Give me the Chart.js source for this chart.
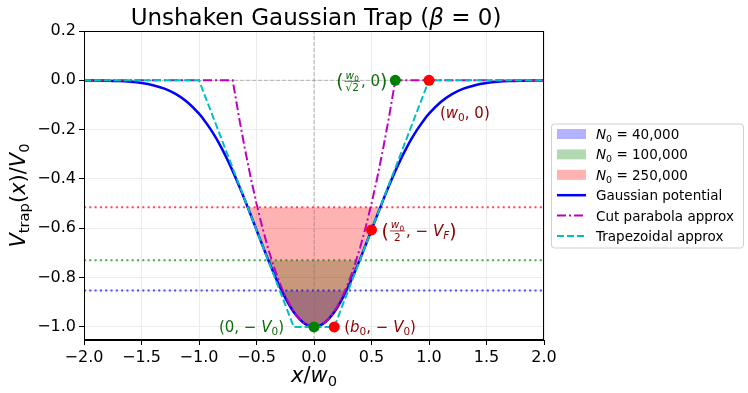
<!DOCTYPE html>
<html>
<head>
<meta charset="utf-8">
<script src="https://cdn.jsdelivr.net/npm/chart.js@4"></script>
<style>
  html, body { margin: 0; padding: 0; background: #fff; }
  canvas { display: block; }
</style>
</head>
<body>
<canvas id="trapChart" width="748" height="393"></canvas>
<script>
// Gaussian potential V/V0 read along x/w0
const gaussX = [-2.0, -1.9, -1.8, -1.7, -1.6, -1.5, -1.4, -1.3, -1.2, -1.1, -1.0,
    -0.95, -0.9, -0.85, -0.8, -0.75, -0.7, -0.65, -0.6, -0.55, -0.5, -0.45, -0.4, -0.35,
    -0.3, -0.25, -0.2, -0.15, -0.1, -0.05, 0,
    0.05, 0.1, 0.15, 0.2, 0.25, 0.3, 0.35, 0.4, 0.45, 0.5, 0.55, 0.6, 0.65, 0.7, 0.75,
    0.8, 0.85, 0.9, 0.95, 1.0, 1.1, 1.2, 1.3, 1.4, 1.5, 1.6, 1.7, 1.8, 1.9, 2.0];
const gaussY = [-0.0003, -0.0007, -0.0015, -0.0031, -0.0060, -0.0111, -0.0198, -0.0340, -0.0561, -0.0889, -0.1353,
    -0.1645, -0.1979, -0.2357, -0.2780, -0.3247, -0.3753, -0.4296, -0.4868, -0.5461, -0.6065, -0.6670, -0.7261, -0.7827,
    -0.8353, -0.8825, -0.9231, -0.9560, -0.9802, -0.9950, -1.0000,
    -0.9950, -0.9802, -0.9560, -0.9231, -0.8825, -0.8353, -0.7827, -0.7261, -0.6670, -0.6065, -0.5461, -0.4868, -0.4296, -0.3753, -0.3247,
    -0.2780, -0.2357, -0.1979, -0.1645, -0.1353, -0.0889, -0.0561, -0.0340, -0.0198, -0.0111, -0.0060, -0.0031, -0.0015, -0.0007, -0.0003];

// cut parabola approximation
const paraX = [-2.0, -0.707, -0.65, -0.6, -0.55, -0.5, -0.45, -0.4, -0.35, -0.3, -0.25, -0.2, -0.15, -0.1, -0.05, 0,
    0.05, 0.1, 0.15, 0.2, 0.25, 0.3, 0.35, 0.4, 0.45, 0.5, 0.55, 0.6, 0.65, 0.707, 2.0];
const paraY = [0, 0, -0.155, -0.28, -0.395, -0.5, -0.595, -0.68, -0.755, -0.82, -0.875, -0.92, -0.955, -0.98, -0.995, -1.0,
    -0.995, -0.98, -0.955, -0.92, -0.875, -0.82, -0.755, -0.68, -0.595, -0.5, -0.395, -0.28, -0.155, 0, 0];

// trapezoidal approximation
const trapX = [-2.0, -1.0, -0.176, 0.176, 1.0, 2.0];
const trapY = [0, 0, -1.0, -1.0, 0, 0];

// Fermi levels for each atom number
const levelLabels = ['40,000', '100,000', '250,000'];
const levelValues = [-0.852, -0.730, -0.515];

// marked points
const markX = [0.707, 1.0, 0.5, 0, 0.176];
const markY = [0, 0, -0.6065, -1.0, -1.0];

const xTicks = [-2.0, -1.5, -1.0, -0.5, 0.0, 0.5, 1.0, 1.5, 2.0];
const yTicks = [-1.0, -0.8, -0.6, -0.4, -0.2, 0.0, 0.2];
const xMin = -2.0, xMax = 2.0, yMin = -1.053, yMax = 0.2;

const FONT = '"DejaVu Sans", sans-serif';
const fillColors = ['rgba(0,0,255,0.3)', 'rgba(0,128,0,0.3)', 'rgba(255,0,0,0.3)'];
const levelColors = ['rgba(0,0,255,0.7)', 'rgba(0,128,0,0.7)', 'rgba(255,0,0,0.7)'];
const markColors = ['#008000', '#ff0000', '#ff0000', '#008000', '#ff0000'];
const GREEN_TXT = '#0a6e0a';
const RED_TXT = '#8b0000';

const pts = (xs, ys) => xs.map((x, i) => ({ x: x, y: ys[i] }));
const fmt = v => (v < -1e-9 ? '\u2212' : '') + Math.abs(v).toFixed(1);

// ---- mixed text runs (italic / subscript / fraction) ----
function runFont(r, size) {
    return (r.it ? 'oblique ' : '') + size + 'px ' + FONT;
}
function runSize(r, size) {
    if (r.sub) return size * 0.7;
    if (r.big) return size * 1.25;
    return size;
}
function fracWidth(ctx, r, size) {
    return Math.max(runsWidth(ctx, r.num, size * 0.7), runsWidth(ctx, r.den, size * 0.7)) + 4;
}
function runsWidth(ctx, runs, size) {
    let w = 0;
    runs.forEach(r => {
        if (r.num) { w += fracWidth(ctx, r, size); return; }
        ctx.font = runFont(r, runSize(r, size));
        w += ctx.measureText(r.t).width;
    });
    return w;
}
function drawRuns(ctx, runs, x, y, size, color, align) {
    const w = runsWidth(ctx, runs, size);
    let cx = align === 'right' ? x - w : (align === 'center' ? x - w / 2 : x);
    ctx.fillStyle = color;
    ctx.strokeStyle = color;
    ctx.textAlign = 'left';
    ctx.textBaseline = 'alphabetic';
    runs.forEach(r => {
        if (r.num) {
            const fw = fracWidth(ctx, r, size);
            const bar = y - size * 0.33;
            const nw = runsWidth(ctx, r.num, size * 0.7);
            const dw = runsWidth(ctx, r.den, size * 0.7);
            drawRuns(ctx, r.num, cx + (fw - nw) / 2, bar - 2.5, size * 0.7, color, 'left');
            drawRuns(ctx, r.den, cx + (fw - dw) / 2, bar + 2 + size * 0.52, size * 0.7, color, 'left');
            ctx.lineWidth = 0.8;
            ctx.beginPath();
            ctx.moveTo(cx + 1, bar);
            ctx.lineTo(cx + fw - 1, bar);
            ctx.stroke();
            cx += fw;
            return;
        }
        const s = runSize(r, size);
        ctx.font = runFont(r, s);
        let by = y;
        if (r.sub) by = y + size * 0.2;
        if (r.big) by = y + size * 0.12;
        ctx.fillText(r.t, cx, by);
        cx += ctx.measureText(r.t).width;
    });
}

const annotations = [
    { x: 0.707, y: 0, dx: -8, dy: 6, align: 'right', color: GREEN_TXT, runs: [
        { t: '(', big: true }, { num: [{ t: 'w', it: true }, { t: '0', sub: true }], den: [{ t: '\u221a2' }] },
        { t: ', 0' }, { t: ')', big: true }] },
    { x: 1.0, y: 0, dx: 11, dy: 38, align: 'left', color: RED_TXT, runs: [
        { t: '(' }, { t: 'w', it: true }, { t: '0', sub: true }, { t: ', 0)' }] },
    { x: 0.5, y: -0.6065, dx: 10, dy: 6, align: 'left', color: RED_TXT, runs: [
        { t: '(', big: true }, { num: [{ t: 'w', it: true }, { t: '0', sub: true }], den: [{ t: '2' }] },
        { t: ', \u2212 ' }, { t: 'V', it: true }, { t: 'F', it: true, sub: true }, { t: ')', big: true }] },
    { x: 0, y: -1.0, dx: -30, dy: 5, align: 'right', color: GREEN_TXT, runs: [
        { t: '(0, \u2212 ' }, { t: 'V', it: true }, { t: '0', sub: true }, { t: ')' }] },
    { x: 0.176, y: -1.0, dx: 10, dy: 5, align: 'left', color: RED_TXT, runs: [
        { t: '(' }, { t: 'b', it: true }, { t: '0', sub: true }, { t: ', \u2212 ' }, { t: 'V', it: true }, { t: '0', sub: true }, { t: ')' }] }
];

const decorPlugin = {
    id: 'decor',
    beforeDraw(chart) {
        const ctx = chart.ctx;
        ctx.save();
        ctx.fillStyle = '#fff';
        ctx.fillRect(0, 0, chart.width, chart.height);
        ctx.restore();
    },
    afterDraw(chart) {
        const ctx = chart.ctx;
        const a = chart.chartArea;
        const xs = chart.scales.x, ys = chart.scales.y;
        ctx.save();

        // frame
        ctx.strokeStyle = '#000';
        ctx.lineWidth = 1;
        ctx.strokeRect(Math.round(a.left) + 0.5, Math.round(a.top) + 0.5, Math.round(a.right - a.left) - 1, Math.round(a.bottom - a.top) - 1);

        // annotations
        annotations.forEach(an => {
            drawRuns(ctx, an.runs, xs.getPixelForValue(an.x) + an.dx, ys.getPixelForValue(an.y) + an.dy, 15, an.color, an.align);
        });

        // title
        const cxm = (a.left + a.right) / 2;
        drawRuns(ctx, [{ t: 'Unshaken Gaussian Trap (' }, { t: '\u03b2', it: true }, { t: ' = 0)' }], cxm + 2, 25, 23, '#000', 'center');

        // x axis title
        drawRuns(ctx, [{ t: 'x', it: true }, { t: '/' }, { t: 'w', it: true }, { t: '0', sub: true }], cxm, 382, 21, '#000', 'center');

        // y axis title (rotated)
        ctx.save();
        ctx.translate(25, (a.top + a.bottom) / 2 + 10);
        ctx.rotate(-Math.PI / 2);
        drawRuns(ctx, [{ t: 'V', it: true }, { t: 'trap', sub: true }, { t: '(' }, { t: 'x', it: true }, { t: ')/' },
            { t: 'V', it: true }, { t: '0', sub: true }], 0, 0, 21, '#000', 'center');
        ctx.restore();

        // legend
        const lx = a.right + 7, ly = (a.top + a.bottom) / 2 - 62, lw = 192, lh = 124;
        ctx.fillStyle = 'rgba(255,255,255,0.8)';
        ctx.strokeStyle = '#d0d0d0';
        ctx.lineWidth = 1;
        ctx.beginPath();
        ctx.roundRect(lx + 0.5, ly + 0.5, lw, lh, 3);
        ctx.fill();
        ctx.stroke();
        const rowH = 20.4;
        const hx0 = lx + 6, hx1 = lx + 35, tx = lx + 45;
        for (let i = 0; i < 6; i++) {
            const cy = ly + 10.5 + i * rowH;
            if (i < 3) {
                ctx.fillStyle = fillColors[i];
                ctx.fillRect(hx0, cy - 5, hx1 - hx0, 10);
                drawRuns(ctx, [{ t: 'N', it: true }, { t: '0', sub: true }, { t: ' = ' + levelLabels[i] }], tx, cy + 5, 13.5, '#000', 'left');
            } else {
                const st = [
                    { c: '#0000ff', d: [], w: 2.5, label: 'Gaussian potential' },
                    { c: '#bf00bf', d: [9, 3, 2, 3], w: 2, label: 'Cut parabola approx' },
                    { c: '#00bfbf', d: [7, 3], w: 2, label: 'Trapezoidal approx' }
                ][i - 3];
                ctx.strokeStyle = st.c;
                ctx.lineWidth = st.w;
                ctx.setLineDash(st.d);
                ctx.beginPath();
                ctx.moveTo(hx0, cy);
                ctx.lineTo(hx1, cy);
                ctx.stroke();
                ctx.setLineDash([]);
                drawRuns(ctx, [{ t: st.label }], tx, cy + 5, 13.5, '#000', 'left');
            }
        }
        ctx.restore();
    }
};

const datasets = [];

// shaded regions below each Fermi level (red painted last, on top)
levelValues.forEach((lv, i) => {
    datasets.push({
        data: pts(gaussX, gaussY),
        borderWidth: 0,
        pointRadius: 0,
        cubicInterpolationMode: 'monotone',
        fill: { target: { value: lv }, above: 'rgba(0,0,0,0)', below: fillColors[i] },
        order: 22 - i
    });
});

// dotted Fermi level lines
levelValues.forEach((lv, i) => {
    datasets.push({
        data: pts([xMin, xMax], [lv, lv]),
        borderColor: levelColors[i],
        borderWidth: 2,
        borderDash: [2, 3.3],
        pointRadius: 0,
        fill: false,
        order: 15
    });
});

// gray guide lines through the origin
datasets.push({
    data: pts([xMin, xMax], [0, 0]),
    borderColor: 'rgba(128,128,128,0.55)', borderWidth: 1, borderDash: [4, 2], pointRadius: 0, fill: false, order: 14
});
datasets.push({
    data: pts([0, 0], [yMin, yMax]),
    borderColor: 'rgba(128,128,128,0.55)', borderWidth: 1, borderDash: [4, 2], pointRadius: 0, fill: false, order: 14
});

datasets.push({
    label: 'Gaussian potential',
    data: pts(gaussX, gaussY),
    borderColor: '#0000ff',
    borderWidth: 2.5,
    pointRadius: 0,
    cubicInterpolationMode: 'monotone',
    fill: false,
    order: 5
});
datasets.push({
    label: 'Cut parabola approx',
    data: pts(paraX, paraY),
    borderColor: '#bf00bf',
    borderWidth: 2,
    borderDash: [9, 3, 2, 3],
    pointRadius: 0,
    fill: false,
    order: 4
});
datasets.push({
    label: 'Trapezoidal approx',
    data: pts(trapX, trapY),
    borderColor: '#00bfbf',
    borderWidth: 2,
    borderDash: [7, 3],
    pointRadius: 0,
    fill: false,
    order: 3
});
datasets.push({
    data: pts(markX, markY),
    showLine: false,
    pointRadius: 5.5,
    pointBorderWidth: 0,
    pointBackgroundColor: markColors,
    pointBorderColor: markColors,
    order: 1
});

new Chart(document.getElementById('trapChart').getContext('2d'), {
    type: 'line',
    data: { datasets: datasets },
    options: {
        responsive: false,
        animation: false,
        devicePixelRatio: 1,
        layout: { padding: { top: 31, right: 204, left: 0, bottom: 0 } },
        plugins: { legend: { display: false }, tooltip: { enabled: false } },
        scales: {
            x: {
                type: 'linear',
                min: xMin,
                max: xMax,
                afterBuildTicks: s => { s.ticks = xTicks.map(v => ({ value: v })); },
                afterFit: s => { s.height = 53; },
                ticks: { callback: v => fmt(v), color: '#000', font: { family: FONT, size: 16 }, padding: 3, maxRotation: 0 },
                grid: { color: '#ebebeb', tickColor: '#000', tickLength: 5, lineWidth: 1 },
                border: { display: true, color: '#000', width: 1 }
            },
            y: {
                type: 'linear',
                min: yMin,
                max: yMax,
                afterBuildTicks: s => { s.ticks = yTicks.map(v => ({ value: v })); },
                afterFit: s => { s.width = 84; },
                ticks: { callback: v => fmt(v), color: '#000', font: { family: FONT, size: 16 }, padding: 3 },
                grid: { color: '#ebebeb', tickColor: '#000', tickLength: 5, lineWidth: 1 },
                border: { display: true, color: '#000', width: 1 }
            }
        }
    },
    plugins: [decorPlugin]
});
</script>
</body>
</html>
